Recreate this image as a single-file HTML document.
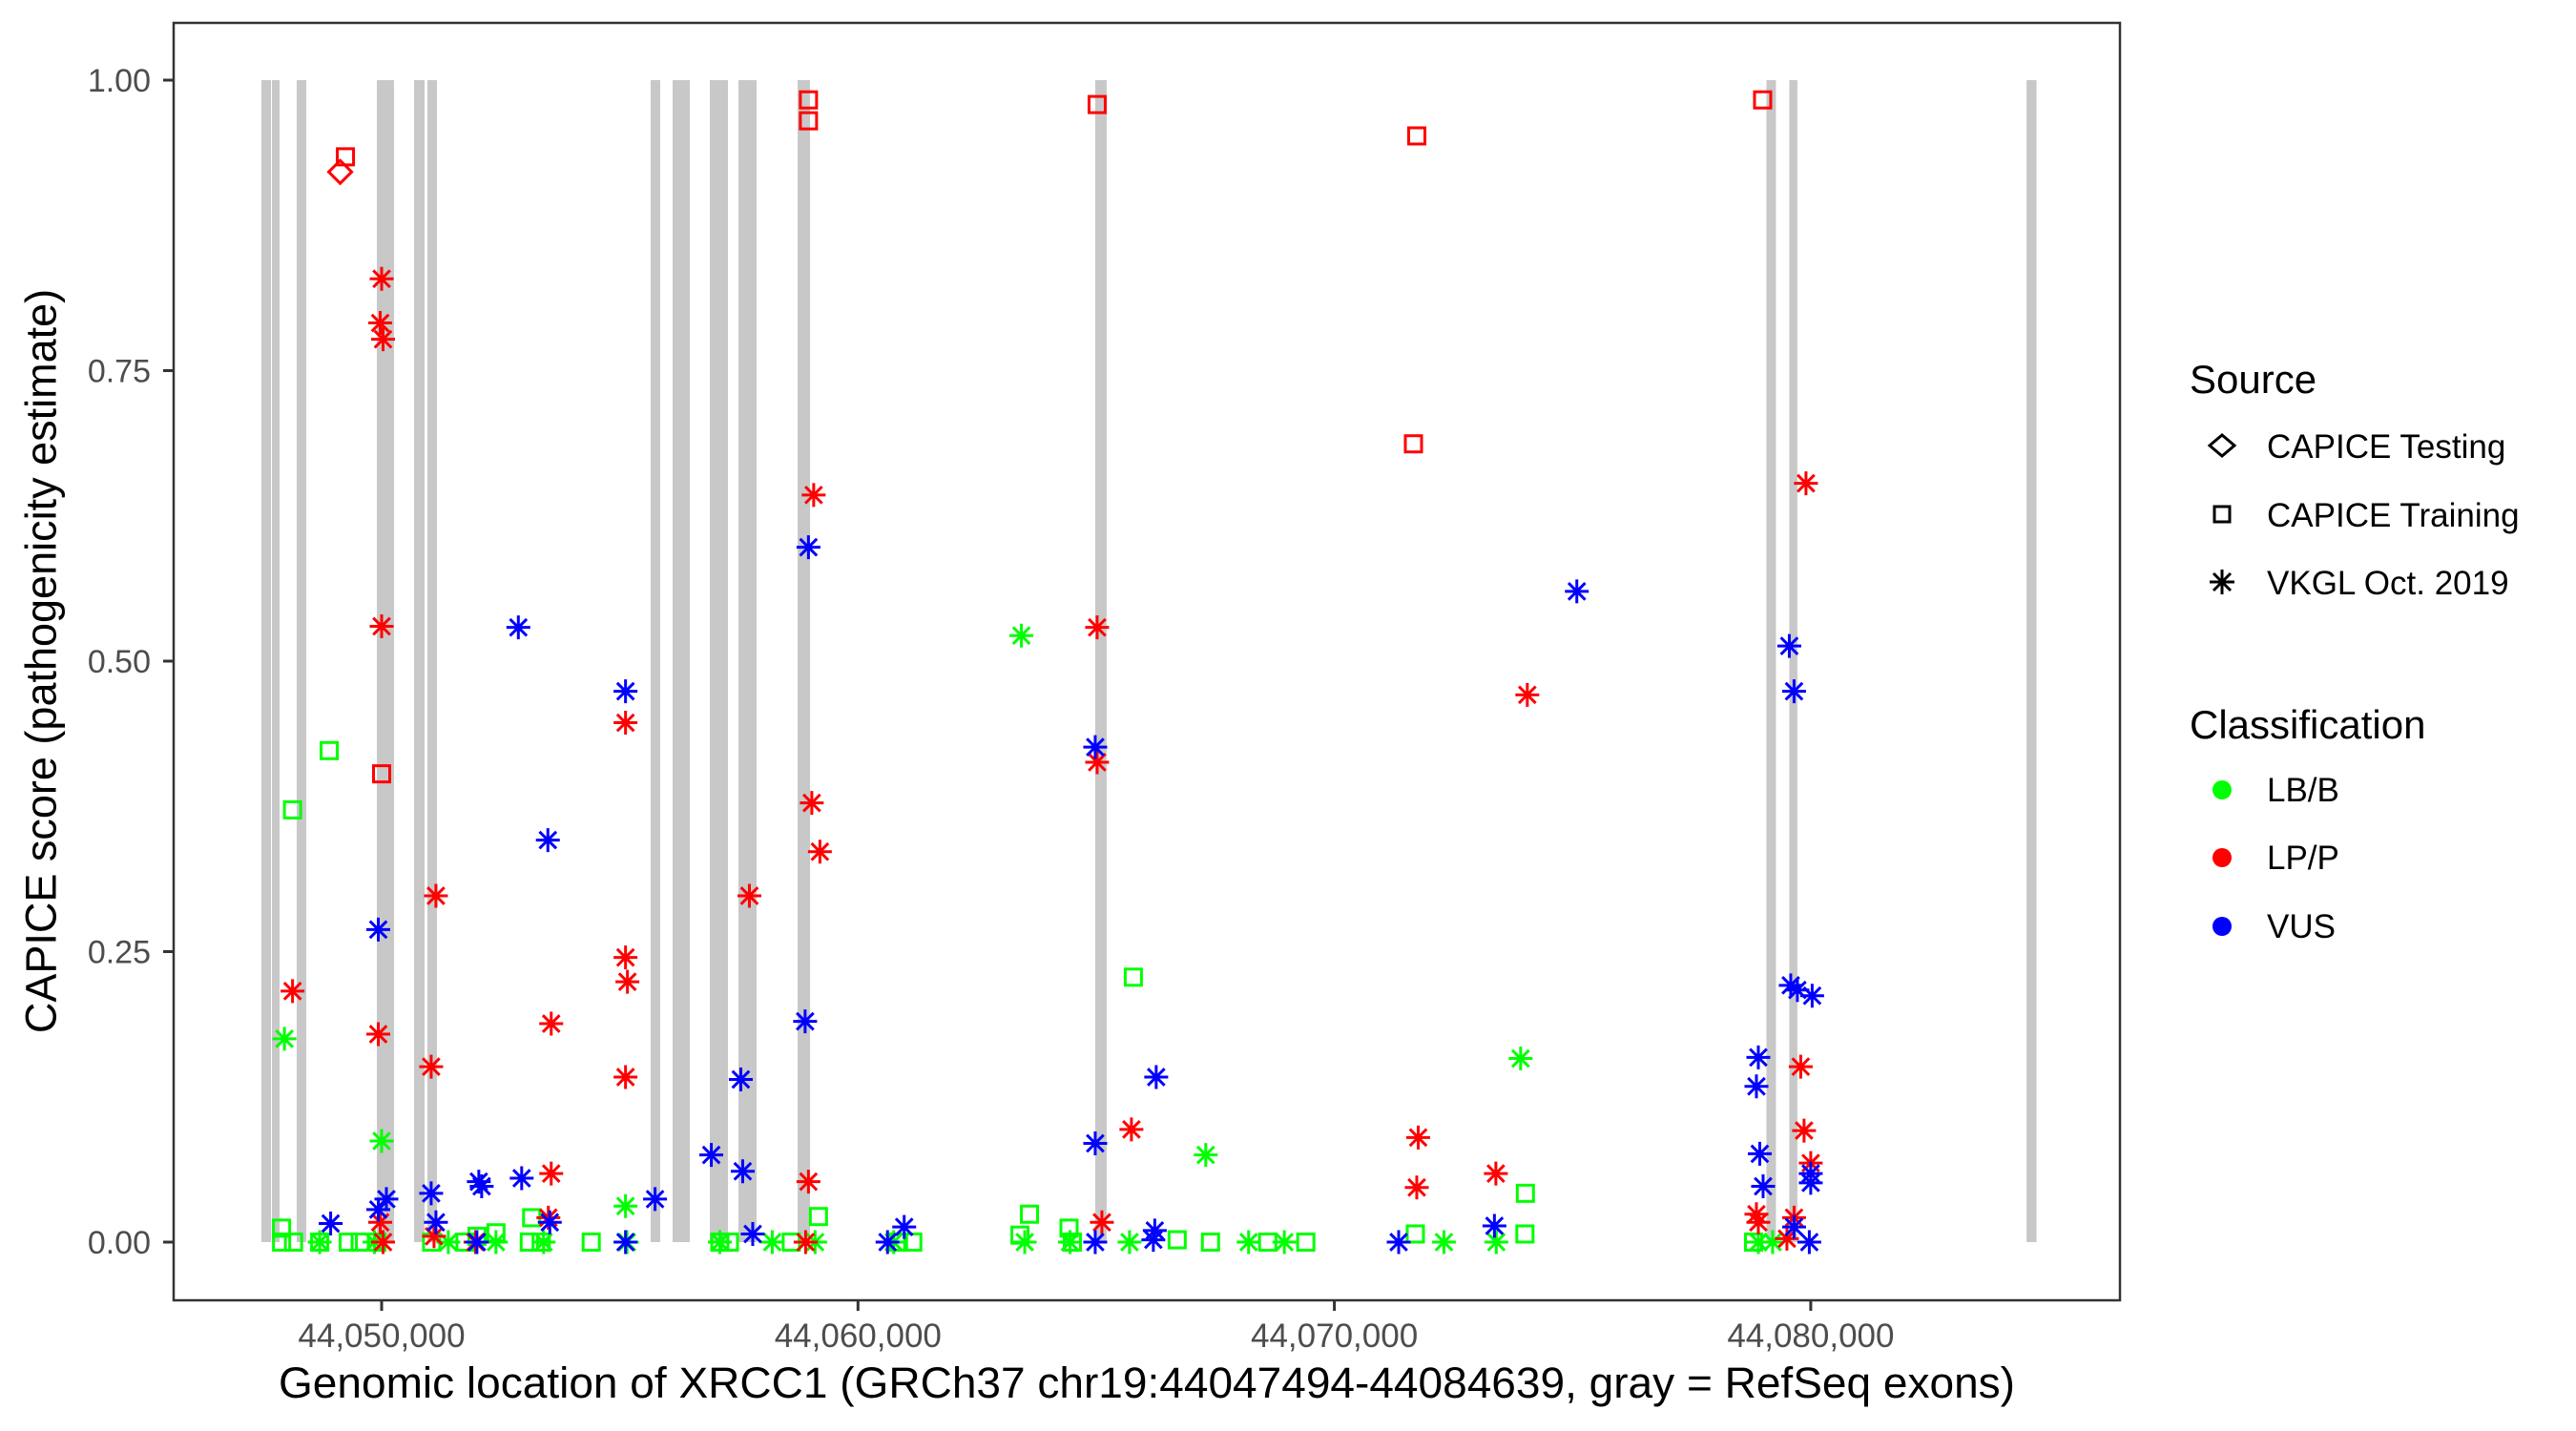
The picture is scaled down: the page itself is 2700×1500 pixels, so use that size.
<!DOCTYPE html>
<html><head><meta charset="utf-8"><style>
html,body{margin:0;padding:0;background:#fff}
svg{display:block;font-family:"Liberation Sans",Arial,sans-serif}
</style></head><body>
<svg id="chart" width="2700" height="1500" viewBox="0 0 2700 1500">
<rect x="0" y="0" width="2700" height="1500" fill="#fff"/>
<g id="exons"></g>
<g id="points"></g>
<rect x="182" y="24" width="2040" height="1339" fill="none" stroke="#333" stroke-width="2.5"/>
<g id="axes"></g>
<text x="43" y="693" transform="rotate(-90 43 693)" text-anchor="middle" dominant-baseline="central" font-size="45" fill="#000">CAPICE score (pathogenicity estimate)</text>
<text x="1202" y="1465" text-anchor="middle" font-size="45" textLength="1820" lengthAdjust="spacingAndGlyphs" fill="#000">Genomic location of XRCC1 (GRCh37 chr19:44047494-44084639, gray = RefSeq exons)</text>
<g id="legend">
<text x="2295" y="412" font-size="42" fill="#000">Source</text>
<path d="M2316,467 l13,-11 l13,11 l-13,11 z" fill="none" stroke="#000" stroke-width="3"/>
<text x="2376" y="480" font-size="35" fill="#000">CAPICE Testing</text>
<rect x="2321" y="531" width="16" height="16" fill="none" stroke="#000" stroke-width="3"/>
<text x="2376" y="552" font-size="35" fill="#000">CAPICE Training</text>
<g stroke="#000" stroke-width="3"><path d="M2329,597 v26 M2316,610 h26 M2320,601 l18,18 M2338,601 l-18,18"/></g>
<text x="2376" y="623" font-size="35" fill="#000">VKGL Oct. 2019</text>
<text x="2295" y="774" font-size="42" fill="#000">Classification</text>
<circle cx="2329" cy="828" r="10" fill="#00ff00"/>
<text x="2376" y="840" font-size="35" fill="#000">LB/B</text>
<circle cx="2329" cy="899" r="10" fill="#ff0000"/>
<text x="2376" y="911" font-size="35" fill="#000">LP/P</text>
<circle cx="2329" cy="971" r="10" fill="#0000ff"/>
<text x="2376" y="983" font-size="35" fill="#000">VUS</text>
</g>
</svg>
<script>
// positions in kb offset from 44,000,000
const exonStarts=[47.476,47.697,48.217,49.900,50.681,50.961,55.648,56.108,56.890,57.490,58.732,64.98,79.07,79.55,84.53];
const exonEnds  =[47.677,47.857,48.418,50.260,50.901,51.162,55.848,56.469,57.270,57.871,58.993,65.22,79.27,79.72,84.74];
const xTicks=[50,60,70,80];
const xTickLabels=["44,050,000","44,060,000","44,070,000","44,080,000"];
const yTicks=[0,0.25,0.5,0.75,1];
const yTickLabels=["0.00","0.25","0.50","0.75","1.00"];
// red (LP/P) diamonds – CAPICE Testing
const testLppX=[49.13];
const testLppY=[0.921];
// CAPICE Training squares
const trainLppX=[49.24,50.0,58.96,58.96,65.02,71.73,71.66,78.99];
const trainLppY=[0.934,0.403,0.983,0.965,0.979,0.952,0.687,0.983];
const trainLbbX=[47.9,48.13,48.9,53.15,59.17,65.78,63.6,74.01,64.43,47.9,48.15,48.7,49.3,49.55,49.9,51.05,51.75,52.0,52.4,53.1,53.35,54.4,57.1,57.3,58.6,60.85,61.15,63.4,64.5,66.7,67.4,68.6,69.4,71.7,74.0,78.8];
const trainLbbY=[0.012,0.372,0.423,0.021,0.022,0.228,0.024,0.042,0.012,0,0,0,0,0,0,0,0,0.005,0.008,0,0,0,0,0,0,0,0,0.006,0,0.002,0,0,0,0.007,0.007,0];
// VKGL asterisks
const vkglLppX=[48.13,50.0,49.97,50.03,50.0,49.93,51.14,51.04,49.97,53.56,53.56,53.5,55.12,55.12,55.16,55.12,57.72,59.07,59.03,59.2,58.96,65.02,65.02,65.12,65.74,71.76,71.73,73.39,74.05,79.9,79.79,79.86,80.0,78.86,78.9,79.65,51.97,51.1,50.03,58.9,79.5];
const vkglLppY=[0.216,0.829,0.791,0.777,0.530,0.179,0.298,0.151,0.017,0.188,0.059,0.021,0.447,0.245,0.224,0.142,0.298,0.643,0.378,0.336,0.052,0.529,0.413,0.017,0.097,0.090,0.047,0.059,0.471,0.653,0.151,0.096,0.068,0.024,0.017,0.021,0,0.005,0,0,0.003];
const vkglVusX=[48.93,49.93,49.93,50.1,51.04,51.14,52.04,52.1,52.87,52.94,53.49,53.53,55.12,55.12,55.74,56.92,57.54,57.58,57.79,58.96,58.89,60.97,60.62,64.98,64.98,64.98,66.26,66.23,75.09,73.36,71.35,78.9,78.86,78.93,79.0,79.55,79.65,79.58,79.72,80.03,80.0,80.0,79.97,79.65,52.0,66.2];
const vkglVusY=[0.016,0.269,0.028,0.037,0.042,0.017,0.052,0.048,0.529,0.055,0.346,0.017,0.474,0,0.037,0.075,0.140,0.061,0.007,0.598,0.190,0.013,0,0.426,0.085,0,0.142,0.010,0.560,0.014,0,0.159,0.134,0.076,0.048,0.513,0.474,0.221,0.217,0.212,0.059,0.051,0,0.013,0,0.002];
const vkglLbbX=[47.96,50.0,55.12,63.43,67.3,73.91,48.7,49.85,51.4,52.4,53.4,55.15,57.1,58.2,59.1,60.75,63.5,64.45,65.7,68.2,68.95,72.3,73.4,78.9,79.2];
const vkglLbbY=[0.175,0.087,0.031,0.522,0.075,0.158,0,0,0,0,0,0,0,0,0,0,0,0,0,0,0,0,0,0,0];

const NS="http://www.w3.org/2000/svg";
const X0=182,X1=2222,Y0=24,Y1=1363;
function xs(k){return 400+(k-50)*49.93;}
function ys(v){return 1302-v*1218;}
function mk(tag,attrs,parent){const e=document.createElementNS(NS,tag);for(const k in attrs)e.setAttribute(k,attrs[k]);parent.appendChild(e);return e;}

const ex=document.getElementById('exons');
for(let i=0;i<exonStarts.length;i++){
  const r=mk('rect',{x:xs(exonStarts[i]),y:ys(1),width:Math.max(xs(exonEnds[i])-xs(exonStarts[i]),8),height:ys(0)-ys(1),fill:'#c8c8c8'},ex);
  
  
}

const ax=document.getElementById('axes');
for(let i=0;i<xTicks.length;i++){
  const x=xs(xTicks[i]);
  const t=mk('line',{x1:x,x2:x,y1:Y1,y2:Y1+11,stroke:'#333','stroke-width':3},ax);
  
  
  const l=mk('text',{x:x,y:1412,'text-anchor':'middle','font-size':35,fill:'#4d4d4d'},ax);
  l.textContent=xTickLabels[i];
  
  
}
for(let i=0;i<yTicks.length;i++){
  const y=ys(yTicks[i]);
  const t=mk('line',{x1:X0-11,x2:X0,y1:y,y2:y,stroke:'#333','stroke-width':3},ax);
  
  
  const l=mk('text',{x:158,y:y+12,'text-anchor':'end','font-size':34,fill:'#4d4d4d'},ax);
  l.textContent=yTickLabels[i];
  
  
}

const pg=document.getElementById('points');
function square(x,y,c){const e=mk('rect',{x:x-8.5,y:y-8.5,width:17,height:17,fill:'none',stroke:c,'stroke-width':3},pg);
  
  }
function diamond(x,y,c){const e=mk('path',{d:`M${x-12},${y} L${x},${y-12} L${x+12},${y} L${x},${y+12} Z`,fill:'none',stroke:c,'stroke-width':3},pg);
  
  }
function star(x,y,c){const r=12.5,d=8.8;const e=mk('path',{d:`M${x},${y-r}V${y+r}M${x-r},${y}H${x+r}M${x-d},${y-d}L${x+d},${y+d}M${x+d},${y-d}L${x-d},${y+d}`,stroke:c,'stroke-width':3,fill:'none'},pg);
  
  }
const G='#00ff00',R='#ff0000',B='#0000ff';
trainLbbX.forEach((k,i)=>square(xs(k),ys(trainLbbY[i]),G));
vkglLbbX.forEach((k,i)=>star(xs(k),ys(vkglLbbY[i]),G));
trainLppX.forEach((k,i)=>square(xs(k),ys(trainLppY[i]),R));
testLppX.forEach((k,i)=>diamond(xs(k),ys(testLppY[i]),R));
vkglLppX.forEach((k,i)=>star(xs(k),ys(vkglLppY[i]),R));
vkglVusX.forEach((k,i)=>star(xs(k),ys(vkglVusY[i]),B));
</script>
</body></html>
